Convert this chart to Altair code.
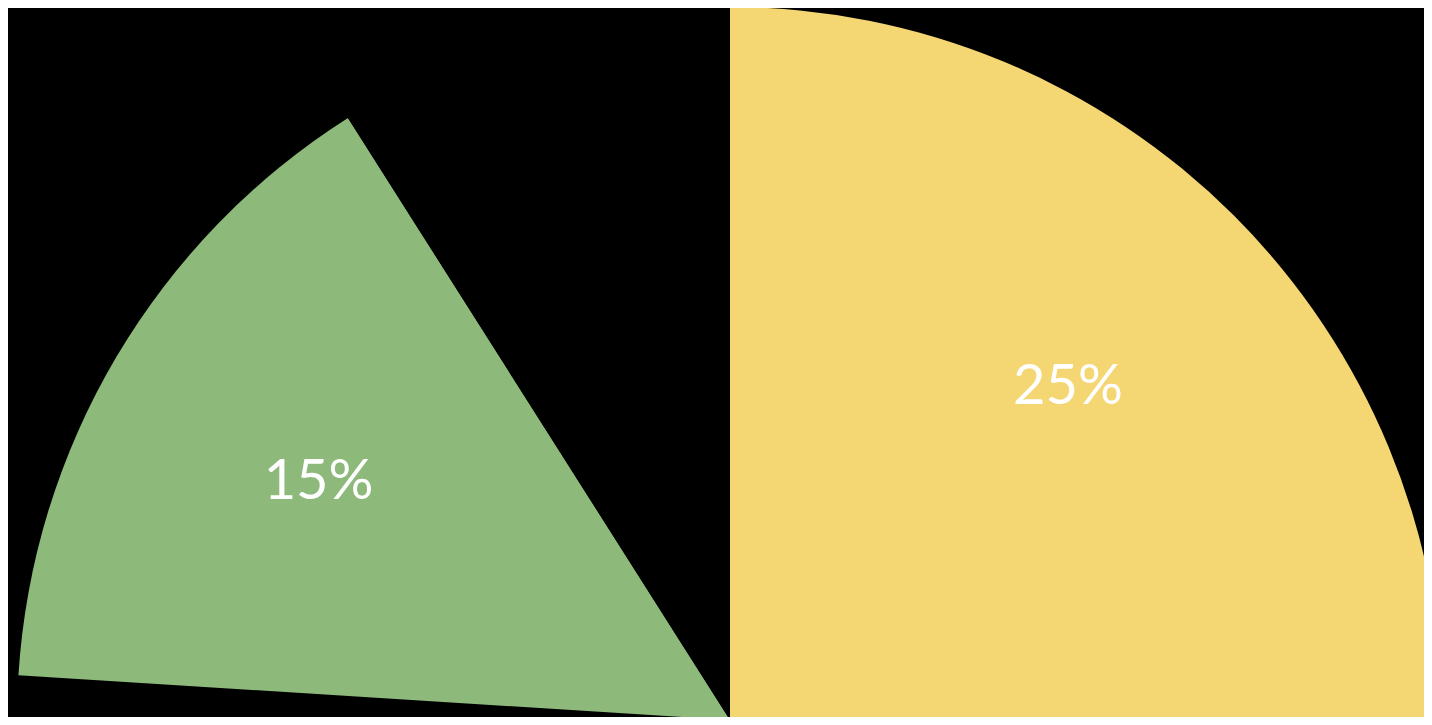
import altair as alt
import pandas as pd

segments = ["Yellow", "Rest", "Green", "Gap"]
shares = [25, 51, 15, 9]
labels = ["25%", "", "15%", ""]
colors = ["#f4d672", "#000000", "#8db97a", "#000000"]
seq = [1, 2, 3, 4]

df = pd.DataFrame({"segment": segments, "share": shares, "label": labels, "seq": seq})

W, H = 1416, 709
CX, CY, R = 722, 712, 713

base = alt.Chart(df).encode(
    theta=alt.Theta("share:Q", stack=True),
    order=alt.Order("seq:Q"),
    x=alt.value(CX),
    y=alt.value(CY),
)

arcs = base.mark_arc(radius=R, stroke=None).encode(
    color=alt.Color("segment:N", scale=alt.Scale(domain=segments, range=colors), legend=None)
)

text = base.mark_text(radius=478, font="Lato", fontSize=56, color="white", dy=5).encode(text="label:N")

chart = (arcs + text).properties(
    width=W, height=H, padding=0, autosize="none", background="black"
).configure_view(stroke=None)

chart.save("out.html", embed_options={"renderer": "svg", "actions": False})
